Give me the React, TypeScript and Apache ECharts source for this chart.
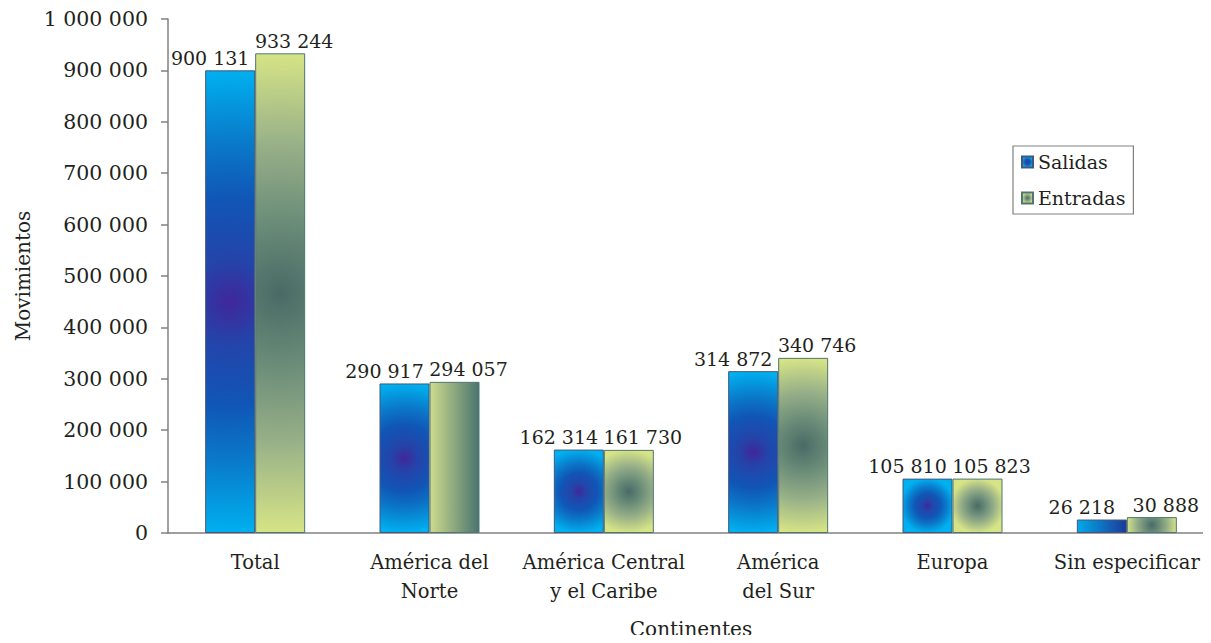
import React, { useEffect, useRef } from "react";
import * as echarts from "echarts";

const categories = [
  "Total",
  "América del\nNorte",
  "América Central\ny el Caribe",
  "América\ndel Sur",
  "Europa",
  "Sin especificar",
];
const salidas = [900131, 290917, 162314, 314872, 105810, 26218];
const entradas = [933244, 294057, 161730, 340746, 105823, 30888];
const yTicks = { min: 0, max: 1000000, interval: 100000 };

// fill style per bar (style only)
const salidasFillKind = ["radial", "radial", "radial", "radial", "radial", "linear"];
const entradasFillKind = ["radial", "linear", "radial", "radial", "radial", "radial"];

const FONT = "DejaVu Serif";
const TXT = "#231f20";

const salStops = [
  { offset: 0, color: "#40279a" },
  { offset: 0.18, color: "#2444aa" },
  { offset: 0.45, color: "#1056b6" },
  { offset: 0.68, color: "#0a78c8" },
  { offset: 1, color: "#00b0f0" },
];
const entStops = [
  { offset: 0, color: "#4a6a66" },
  { offset: 0.3, color: "#6a8c78" },
  { offset: 0.62, color: "#98b088" },
  { offset: 1, color: "#d6e486" },
];
const salLinear = [
  { offset: 0, color: "#00aaea" },
  { offset: 1, color: "#1c3a98" },
];
const entLinear = [
  { offset: 0, color: "#cddb8c" },
  { offset: 1, color: "#4a7470" },
];

const fmt = (v: number) => String(v).replace(/\B(?=(\d{3})+(?!\d))/g, " ");

export default function App() {
  const ref = useRef<HTMLDivElement>(null);
  useEffect(() => {
    if (!ref.current) return;
    const chart = echarts.init(ref.current, null, { renderer: "svg" });
    const labelBase = {
      show: true,
      position: "top" as const,
      distance: 3,
      fontFamily: FONT,
      fontSize: 19,
      color: TXT,
      formatter: (p: any) => fmt(p.value),
    };
    const option: any = {
      animation: false,
      backgroundColor: "#ffffff",
      textStyle: { fontFamily: FONT },
      grid: {
        left: 168,
        top: 19,
        width: 1046,
        height: 514,
        containLabel: false,
        outerBoundsMode: "none",
      },
      legend: {
        orient: "vertical",
        left: 1013,
        top: 146,
        padding: [5, 8, 5, 8],
        itemGap: 14,
        itemWidth: 11,
        itemHeight: 11,
        borderColor: "#808080",
        borderWidth: 1.2,
        icon: "rect",
        textStyle: { fontFamily: FONT, fontSize: 19, color: TXT, lineHeight: 22 },
        data: ["Salidas", "Entradas"],
      },
      xAxis: {
        type: "category",
        data: categories,
        name: "Continentes",
        nameLocation: "middle",
        nameGap: 86,
        nameTextStyle: { fontFamily: FONT, fontSize: 20, color: TXT },
        axisLine: { lineStyle: { color: "#808080", width: 1.5 } },
        axisTick: { show: false },
        axisLabel: {
          fontFamily: FONT,
          fontSize: 19.5,
          color: TXT,
          lineHeight: 29,
          margin: 15,
          interval: 0,
        },
      },
      yAxis: {
        type: "value",
        min: yTicks.min,
        max: yTicks.max,
        interval: yTicks.interval,
        name: "Movimientos",
        nameLocation: "middle",
        nameGap: 134,
        nameRotate: 90,
        nameTextStyle: { fontFamily: FONT, fontSize: 20, color: TXT },
        splitLine: { show: false },
        axisLine: { show: true, lineStyle: { color: "#808080", width: 1.5 } },
        axisTick: { show: true, length: 7, lineStyle: { color: "#808080", width: 1.5 } },
        axisLabel: {
          fontFamily: FONT,
          fontSize: 20.5,
          color: TXT,
          margin: 20,
          formatter: (v: number) => fmt(v),
        },
      },
      series: [
        {
          name: "Salidas",
          type: "bar",
          data: salidas,
          barWidth: 50,
          barGap: "0%",
          itemStyle: {
            color: { type: "radial", x: 0.5, y: 0.5, r: 0.5, colorStops: salStops },
            borderColor: "#45567a",
            borderWidth: 1,
          },
          label: { ...labelBase, offset: [-20, 0] },
        },
        {
          name: "Entradas",
          type: "bar",
          data: entradas,
          barWidth: 50,
          barGap: "0%",
          itemStyle: {
            color: { type: "radial", x: 0.5, y: 0.5, r: 0.5, colorStops: entStops },
            borderColor: "#4f7670",
            borderWidth: 1,
          },
          label: { ...labelBase, offset: [14, 0] },
        },
      ],
    };
    chart.setOption(option);

    // second pass: compute per-bar gradients from the library's own bar layout
    try {
      const model = (chart as any).getModel();
      const build = (sIdx: number, values: number[], kinds: string[], stops: any[], lin: any[]) => {
        const data = model.getSeriesByIndex(sIdx).getData();
        return values.map((v, i) => {
          const l = data.getItemLayout(i);
          if (!l) return v;
          const w = Math.abs(l.width);
          const h = Math.abs(l.height);
          const left = Math.min(l.x, l.x + l.width);
          const top = Math.min(l.y, l.y + l.height);
          let color: any;
          if (kinds[i] === "linear") {
            color = { type: "linear", x: 0, y: 0, x2: 1, y2: 0, colorStops: lin };
          } else {
            color = {
              type: "radial",
              x: left + w / 2,
              y: top + h / 2,
              r: Math.max(w, h) / 2,
              global: true,
              colorStops: stops,
            };
          }
          return { value: v, itemStyle: { color } };
        });
      };
      const d0 = build(0, salidas, salidasFillKind, salStops, salLinear);
      const d1 = build(1, entradas, entradasFillKind, entStops, entLinear);
      chart.setOption({ series: [{ data: d0 }, { data: d1 }] });
    } catch (e) {
      // keep first-pass rendering
    }
    return () => chart.dispose();
  }, []);
  return <div ref={ref} style={{ width: 1211, height: 643, margin: -8 }} />;
}
